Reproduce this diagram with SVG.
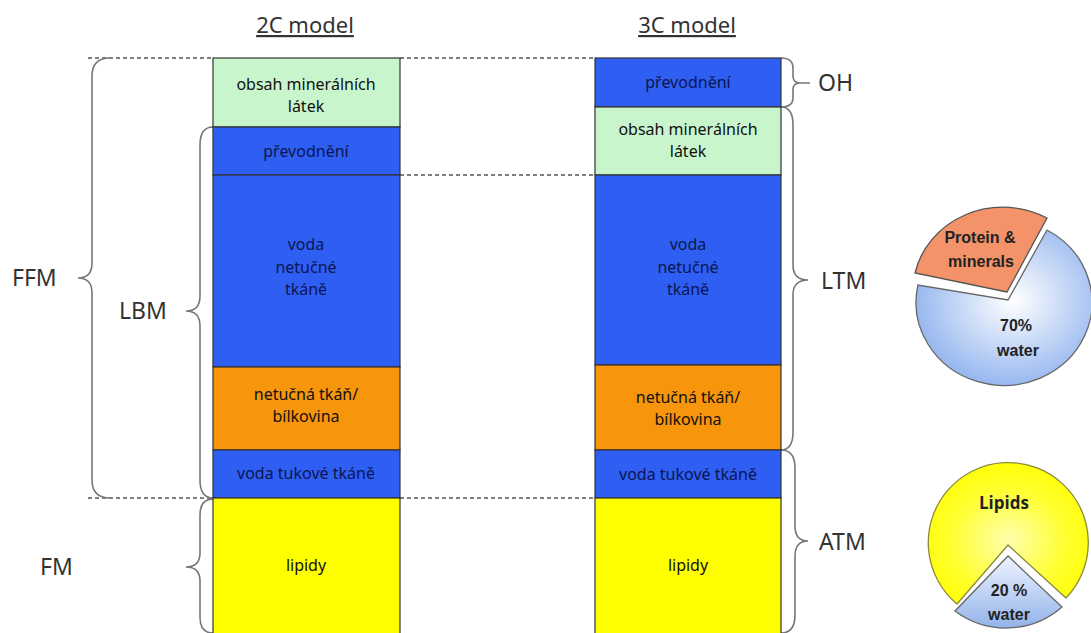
<svg xmlns="http://www.w3.org/2000/svg" width="1091" height="633" viewBox="0 0 1091 633">
<style>
.box{stroke:#333;stroke-width:1.2}
.blue{fill:#2f5ef2}
.green{fill:#c9f5cc}
.orange{fill:#f7950c}
.yellow{fill:#ffff00}
.t{font-family:"Noto Sans",sans-serif;font-size:16px;text-anchor:middle;fill:#111}
.tb{fill:#0b1650}
.lab{font-family:"Noto Sans",sans-serif;font-size:23px;fill:#333}
.title{font-family:"Noto Sans",sans-serif;font-size:22px;fill:#333;text-anchor:middle;text-decoration:underline}
.brace{fill:none;stroke:#777;stroke-width:1.6}
.dash{stroke:#555;stroke-width:1.5;stroke-dasharray:4 3;fill:none}
.pt{font-family:"Liberation Sans",Arial,sans-serif;font-weight:bold;font-size:16px;text-anchor:middle;fill:#222}
</style>
<defs>
<radialGradient id="gBlue" cx="0.55" cy="0.45" r="0.6">
<stop offset="0" stop-color="#ffffff"/>
<stop offset="1" stop-color="#8fb2ee"/>
</radialGradient>
<radialGradient id="gYel" cx="0.5" cy="0.55" r="0.6">
<stop offset="0" stop-color="#ffffb0"/>
<stop offset="0.6" stop-color="#ffff30"/>
<stop offset="1" stop-color="#ffff00"/>
</radialGradient>
<linearGradient id="gBlue2" x1="0" y1="0" x2="0" y2="1">
<stop offset="0" stop-color="#eef4ff"/>
<stop offset="1" stop-color="#93b3ea"/>
</linearGradient>
</defs>

<text class="title" x="305" y="33">2C model</text>
<text class="title" x="687" y="33">3C model</text>

<g id="connectors">
<path class="dash" d="M88,58 H213 M400,58 H595 M400,175 H595 M88,498 H213 M400,498 H595"/>
<path class="brace" d="M110,58 Q92,58 92,76 L92,263 Q92,278 78,278 Q92,278 92,293 L92,480 Q92,498 110,498"/>
<path class="brace" d="M213,127 Q200,127 200,145 L200,296 Q200,311 186,311 Q200,311 200,326 L200,480 Q200,498 213,498"/>
<path class="brace" d="M213,499 Q200,499 200,515 L200,553 Q200,567 186,567 Q200,567 200,581 L200,617 Q200,633 213,633"/>
<path class="brace" d="M781,58 Q793,58 793,68 L793,76 Q793,83 800,83 Q793,83 793,90 L793,98 Q793,107 781,107 M800,83 H810"/>
<path class="brace" d="M781,107 Q793,107 793,125 L793,265 Q793,280 808,280 Q793,280 793,295 L793,432 Q793,450 781,450"/>
<path class="brace" d="M781,450 Q795,450 795,468 L795,526 Q795,541 808,541 Q795,541 795,556 L795,615 Q795,633 781,633"/>
</g>

<g id="col2c">
<g id="c2-min"><rect class="box green" x="213" y="58" width="187" height="69"/><text class="t" x="306" y="90">obsah minerálních</text><text class="t" x="306" y="112">látek</text></g>
<g id="c2-hyd"><rect class="box blue" x="213" y="127" width="187" height="48"/><text class="t tb" x="306" y="157">převodnění</text></g>
<g id="c2-water"><rect class="box blue" x="213" y="175" width="187" height="192"/><text class="t tb" x="306" y="250">voda</text><text class="t tb" x="306" y="273">netučné</text><text class="t tb" x="306" y="295">tkáně</text></g>
<g id="c2-prot"><rect class="box orange" x="213" y="367" width="187" height="83"/><text class="t" x="306" y="400">netučná tkáň/</text><text class="t" x="306" y="422">bílkovina</text></g>
<g id="c2-fatw"><rect class="box blue" x="213" y="450" width="187" height="48"/><text class="t tb" x="306" y="479">voda tukové tkáně</text></g>
<g id="c2-lip"><rect class="box yellow" x="213" y="498" width="187" height="140"/><text class="t" x="306" y="571">lipidy</text></g>
</g>

<g id="col3c">
<g id="c3-hyd"><rect class="box blue" x="595" y="58" width="186" height="49"/><text class="t tb" x="688" y="88">převodnění</text></g>
<g id="c3-min"><rect class="box green" x="595" y="107" width="186" height="68"/><text class="t" x="688" y="135">obsah minerálních</text><text class="t" x="688" y="157">látek</text></g>
<g id="c3-water"><rect class="box blue" x="595" y="175" width="186" height="190"/><text class="t tb" x="688" y="250">voda</text><text class="t tb" x="688" y="273">netučné</text><text class="t tb" x="688" y="295">tkáně</text></g>
<g id="c3-prot"><rect class="box orange" x="595" y="365" width="186" height="85"/><text class="t" x="688" y="403">netučná tkáň/</text><text class="t" x="688" y="425">bílkovina</text></g>
<g id="c3-fatw"><rect class="box blue" x="595" y="450" width="186" height="48"/><text class="t tb" x="688" y="480">voda tukové tkáně</text></g>
<g id="c3-lip"><rect class="box yellow" x="595" y="498" width="186" height="140"/><text class="t" x="688" y="571">lipidy</text></g>
</g>

<g id="labels">
<text class="lab" x="12" y="286">FFM</text>
<text class="lab" x="119" y="319">LBM</text>
<text class="lab" x="40" y="575">FM</text>
<text class="lab" x="818" y="91">OH</text>
<text class="lab" x="821" y="289">LTM</text>
<text class="lab" x="819" y="550">ATM</text>
</g>

<g id="pie-ffm">
<path d="M1008,300 L1047,230 A88,83 0 1 1 918,285 Z" fill="url(#gBlue)" stroke="#666" stroke-width="1.3"/>
<path d="M1007,292 L915,273 A90,84 0 0 1 1047,218 Z" fill="#f4926a" stroke="#555" stroke-width="1.3"/>
<text class="pt" x="980" y="243">Protein &amp;</text>
<text class="pt" x="981" y="267">minerals</text>
<text class="pt" x="1016" y="331">70%</text>
<text class="pt" x="1018" y="356">water</text>
</g>

<g id="pie-fm">
<path d="M1008,545 L957,604 A80,80 0 1 1 1066,598 Z" fill="url(#gYel)" stroke="#8a8a3a" stroke-width="1.3"/>
<path d="M1008,556 L955,611 A85,85 0 0 0 1062,607 Z" fill="url(#gBlue2)" stroke="#666" stroke-width="1.3"/>
<text class="pt" x="1004" y="509" style="font-family:'Open Sans',sans-serif;font-size:17px">Lipids</text>
<text class="pt" x="1009" y="596">20 %</text>
<text class="pt" x="1009" y="620">water</text>
</g>
</svg>
